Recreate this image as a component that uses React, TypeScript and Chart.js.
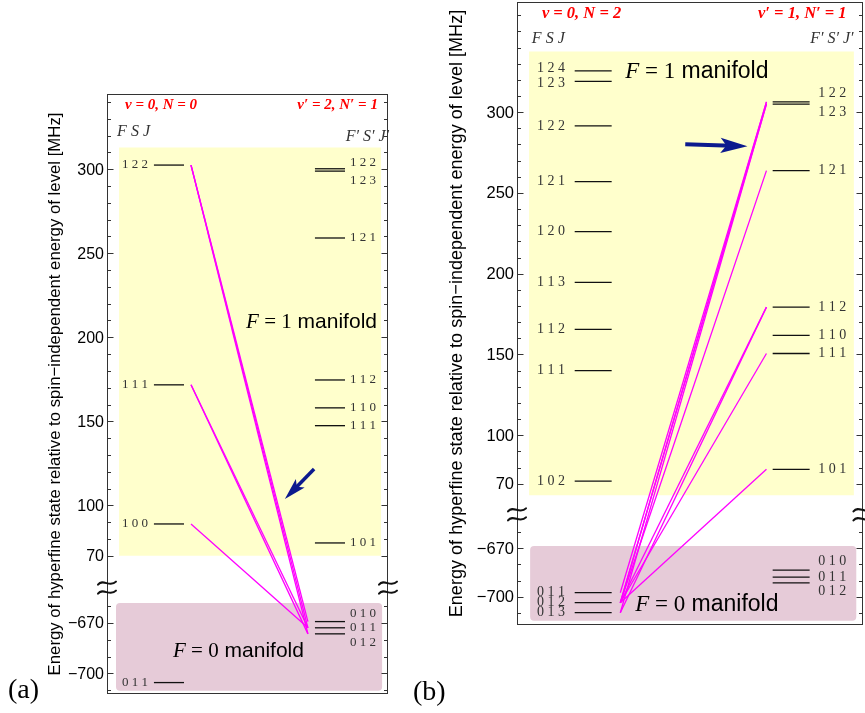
import React, { useEffect, useRef } from 'react';
import { Chart, registerables } from 'chart.js';

Chart.register(...registerables);

// ---------- data (MHz) ----------
// Panel (a): v=0, N=0  ->  v'=2, N'=1
const A_LEFT_LABELS = ['1 2 2', '1 1 1', '1 0 0', '0 1 1'];
const A_LEFT_MHZ = [302.5, 171.7, 88.9, -705.5];
const A_RIGHT_LABELS = ['1 2 2', '1 2 3', '1 2 1', '1 1 2', '1 1 0', '1 1 1', '1 0 1', '0 1 0', '0 1 1', '0 1 2'];
const A_RIGHT_MHZ = [300.3, 298.9, 259.1, 174.6, 158.0, 147.4, 77.6, -669.2, -672.9, -676.5];
const A_LINES_FROM = [0, 0, 0, 1, 1, 2];
const A_LINES_TO = [7, 8, 9, 8, 9, 8];

// Panel (b): v=0, N=2  ->  v'=1, N'=1
const B_LEFT_LABELS = ['1 2 4', '1 2 3', '1 2 2', '1 2 1', '1 2 0', '1 1 3', '1 1 2', '1 1 1', '1 0 2', '0 1 1', '0 1 2', '0 1 3'];
const B_LEFT_MHZ = [325.6, 319.0, 291.5, 257.0, 226.0, 194.6, 165.5, 140.0, 71.6, -697.5, -703.7, -709.9];
const B_RIGHT_LABELS = ['1 2 2', '1 2 3', '1 2 1', '1 1 2', '1 1 0', '1 1 1', '1 0 1', '0 1 0', '0 1 1', '0 1 2'];
const B_RIGHT_MHZ = [306.4, 305.0, 263.8, 179.3, 161.8, 150.6, 78.9, -683.5, -687.9, -691.4];
const B_LINES_FROM = [9, 10, 10, 11, 10, 10, 11, 10, 10];
const B_LINES_TO = [0, 0, 1, 1, 2, 3, 3, 5, 6];

// axis ticks
const TICKS_UPPER = [70, 80, 90, 100, 110, 120, 130, 140, 150, 160, 170, 180, 190, 200, 210, 220, 230, 240, 250, 260, 270, 280, 290, 300, 310, 320, 330, 340, 350, 360];
const TICKS_LOWER = [-710, -700, -690, -680, -670, -660];
const TICK_LABELS = [300, 250, 200, 150, 100, 70, -670, -700];

const TITLE = 'Energy of hyperfine state relative to spin\u2212independent energy of level [MHz]';

// broken axis: lower block shifted up
const BREAK_SHIFT = 700;
const toAxis = (mhz: number) => (mhz < 0 ? mhz + BREAK_SHIFT : mhz);

type Panel = {
  key: string;
  left: number;
  width: number;
  pad: { left: number; right: number; top: number; bottom: number };
  yMin: number;
  yMax: number;
  leftLabels: string[];
  leftMhz: number[];
  rightLabels: string[];
  rightMhz: number[];
  from: number[];
  to: number[];
  leftDy: number[];
  rightDy: number[];
  transX: [number, number];
  leftLabelX: number;
  rightLabelX: number;
  f1Box: number[];
  f0Box: number[];
  headerL: string;
  headerR: string;
  headerMhz: number;
  headerLX: number;
  headerRX: number;
  headerSize: number;
  fsjMhz: number;
  fsjPMhz: number;
  fsjX: number;
  fsjPX: number;
  levelFont: number;
  tickFont: number;
  titleX: number;
  titleLen: number;
  m1: { x: number; mhz: number };
  m0: { x: number; mhz: number };
  mSize: number;
  arrow: number[];
  arrowW: number;
  arrowHead: number;
  breakMhz: number;
  tag: string;
  tagX: number;
  tagY: number;
};

const LEFT_LEVEL_X: [number, number] = [16.7, 27.4];
const RIGHT_LEVEL_X: [number, number] = [74.0, 84.7];

const PANEL_A: Panel = {
  key: 'a',
  left: 0,
  width: 400,
  pad: { left: 107, right: 12, top: 94, bottom: 19 },
  yMin: -12.3,
  yMax: 344.8,
  leftLabels: A_LEFT_LABELS,
  leftMhz: A_LEFT_MHZ,
  rightLabels: A_RIGHT_LABELS,
  rightMhz: A_RIGHT_MHZ,
  from: A_LINES_FROM,
  to: A_LINES_TO,
  leftDy: [0, 0, 0, 0],
  rightDy: [-6.5, 9.5, 0, 0, 0, 0, 0, -8.5, 0, 8.5],
  transX: [29.9, 71.5],
  leftLabelX: 14.6,
  rightLabelX: 86.5,
  f1Box: [4.3, 97.5, 313, 70],
  f0Box: [3.2, 97.9, -658.2, -710.4],
  headerL: 'v = 0, N = 0',
  headerR: 'v\u2032 = 2, N\u2032 = 1',
  headerMhz: 338.3,
  headerLX: 6.4,
  headerRX: 96.4,
  headerSize: 15,
  fsjMhz: 322.4,
  fsjPMhz: 319.4,
  fsjX: 3.6,
  fsjPX: 100.4,
  levelFont: 13,
  tickFont: 16,
  titleX: 55,
  titleLen: 563,
  m1: { x: 49.5, mhz: 208.7 },
  m0: { x: 23.5, mhz: -686.7 },
  mSize: 21,
  arrow: [73.7, 121.6, 63.3, 103.8],
  arrowW: 3.5,
  arrowHead: 22,
  breakMhz: 51,
  tag: '(a)',
  tagX: 8,
  tagY: 691,
};

const PANEL_B: Panel = {
  key: 'b',
  left: 400,
  width: 465,
  pad: { left: 117, right: 2.5, top: 2, bottom: 88 },
  yMin: -17.5,
  yMax: 368.2,
  leftLabels: B_LEFT_LABELS,
  leftMhz: B_LEFT_MHZ,
  rightLabels: B_RIGHT_LABELS,
  rightMhz: B_RIGHT_MHZ,
  from: B_LINES_FROM,
  to: B_LINES_TO,
  leftDy: [-2, 1.5, 0, 0, 0, 0, 0, 0, 0, 0, 0, 0],
  rightDy: [-8.4, 8.3, 0, 0, 0, 0, 0, -8.3, 0, 8],
  transX: [29.9, 72.2],
  leftLabelX: 13.9,
  rightLabelX: 87.2,
  f1Box: [3.5, 97.5, 337.6, 62.9],
  f0Box: [3.8, 98.2, -668.6, -714.9],
  headerL: 'v = 0, N = 2',
  headerR: 'v\u2032 = 1, N\u2032 = 1',
  headerMhz: 360.8,
  headerLX: 7.2,
  headerRX: 95.4,
  headerSize: 16.5,
  fsjMhz: 345.3,
  fsjPMhz: 345.3,
  fsjX: 4.3,
  fsjPX: 97.4,
  levelFont: 14,
  tickFont: 16.5,
  titleX: 57,
  titleLen: 608,
  m1: { x: 31.3, mhz: 324.9 },
  m0: { x: 34.2, mhz: -705.1 },
  mSize: 23,
  arrow: [48.7, 280.2, 66.7, 278.9],
  arrowW: 4,
  arrowHead: 27,
  breakMhz: 51,
  tag: '(b)',
  tagX: 13,
  tagY: 693,
};

const SERIF = '"Liberation Serif", "DejaVu Serif", serif';
const SANS = '"Liberation Sans", Arial, sans-serif';

function drawBreak(ctx: CanvasRenderingContext2D, cx: number, cy: number) {
  ctx.save();
  ctx.translate(cx, cy);
  ctx.strokeStyle = '#111';
  ctx.lineWidth = 2;
  ctx.lineCap = 'round';
  for (const off of [-4.5, 4.5]) {
    ctx.beginPath();
    ctx.moveTo(-9, off + 1.5);
    ctx.bezierCurveTo(-4, off - 5, 3, off + 5, 9, off - 1.5);
    ctx.stroke();
  }
  ctx.restore();
}

function drawArrow(
  ctx: CanvasRenderingContext2D,
  x0: number, y0: number, x1: number, y1: number,
  w: number, headL: number, color: string
) {
  const dx = x1 - x0, dy = y1 - y0;
  const L = Math.hypot(dx, dy);
  const ux = dx / L, uy = dy / L;
  const nx = -uy, ny = ux;
  const hw = headL * 0.28;
  const bx = x1 - ux * headL, by = y1 - uy * headL;
  ctx.save();
  ctx.strokeStyle = color;
  ctx.lineWidth = w;
  ctx.beginPath();
  ctx.moveTo(x0, y0);
  ctx.lineTo(bx + ux * headL * 0.4, by + uy * headL * 0.4);
  ctx.stroke();
  ctx.fillStyle = color;
  ctx.beginPath();
  ctx.moveTo(x1, y1);
  ctx.lineTo(bx + nx * hw, by + ny * hw);
  ctx.lineTo(bx + ux * headL * 0.22, by + uy * headL * 0.22);
  ctx.lineTo(bx - nx * hw, by - ny * hw);
  ctx.closePath();
  ctx.fill();
  ctx.restore();
}

function drawSegments(
  ctx: CanvasRenderingContext2D,
  x: number, y: number,
  segs: { t: string; f: string }[], color: string
) {
  ctx.save();
  ctx.fillStyle = color;
  ctx.textBaseline = 'middle';
  ctx.textAlign = 'left';
  let cx = x;
  for (const s of segs) {
    ctx.font = s.f;
    ctx.fillText(s.t, cx, y);
    cx += ctx.measureText(s.t).width;
  }
  ctx.restore();
}

function makePlugin(p: Panel) {
  return {
    id: 'hyperfine_' + p.key,
    beforeDatasetsDraw(chart: any) {
      const ctx: CanvasRenderingContext2D = chart.ctx;
      const xs = chart.scales.x, ys = chart.scales.y;
      const box = (b: number[], color: string, r: number) => {
        const x0 = xs.getPixelForValue(b[0]);
        const x1 = xs.getPixelForValue(b[1]);
        const y0 = ys.getPixelForValue(toAxis(b[2]));
        const y1 = ys.getPixelForValue(toAxis(b[3]));
        ctx.save();
        ctx.fillStyle = color;
        ctx.beginPath();
        (ctx as any).roundRect(x0, y0, x1 - x0, y1 - y0, r);
        ctx.fill();
        ctx.restore();
      };
      box(p.f1Box, '#ffffcc', 0);
      box(p.f0Box, '#e6cbd8', 4);
    },
    afterDatasetsDraw(chart: any) {
      const ctx: CanvasRenderingContext2D = chart.ctx;
      const xs = chart.scales.x, ys = chart.scales.y;
      const area = chart.chartArea;
      const X = (v: number) => xs.getPixelForValue(v);
      const Y = (mhz: number) => ys.getPixelForValue(toAxis(mhz));

      // level labels
      ctx.save();
      ctx.fillStyle = '#333';
      ctx.textBaseline = 'middle';
      ctx.font = `${p.levelFont}px ${SERIF}`;
      ctx.textAlign = 'right';
      p.leftLabels.forEach((lab, i) => ctx.fillText(lab, X(p.leftLabelX), Y(p.leftMhz[i]) + p.leftDy[i]));
      ctx.textAlign = 'left';
      p.rightLabels.forEach((lab, i) => ctx.fillText(lab, X(p.rightLabelX), Y(p.rightMhz[i]) + p.rightDy[i]));
      ctx.restore();

      // frame
      ctx.save();
      ctx.strokeStyle = '#333';
      ctx.lineWidth = 1;
      const L = Math.round(area.left) + 0.5, R = Math.round(area.right) - 0.5;
      const T = Math.round(area.top) + 0.5, B = Math.round(area.bottom) - 0.5;
      ctx.strokeRect(L, T, R - L, B - T);

      // ticks
      const allTicks = [...TICKS_LOWER, ...TICKS_UPPER];
      for (const v of allTicks) {
        const t = toAxis(v);
        if (t < p.yMin || t > p.yMax) continue;
        const py = Math.round(ys.getPixelForValue(t)) + 0.5;
        const len = TICK_LABELS.includes(v) ? 6 : 3.5;
        ctx.beginPath();
        ctx.moveTo(L, py);
        ctx.lineTo(L + len, py);
        ctx.moveTo(R, py);
        ctx.lineTo(R - len, py);
        ctx.stroke();
      }
      // tick labels
      ctx.fillStyle = '#000';
      ctx.font = `${p.tickFont}px ${SANS}`;
      ctx.textAlign = 'right';
      ctx.textBaseline = 'middle';
      for (const v of TICK_LABELS) {
        const txt = v < 0 ? '\u2212' + Math.abs(v) : String(v);
        ctx.fillText(txt, area.left - 3, ys.getPixelForValue(toAxis(v)) + 1);
      }
      ctx.restore();

      // axis title
      ctx.save();
      ctx.font = `16px ${SANS}`;
      const w16 = ctx.measureText(TITLE).width;
      const fsz = (16 * p.titleLen) / w16;
      ctx.font = `${fsz}px ${SANS}`;
      ctx.fillStyle = '#000';
      ctx.textAlign = 'center';
      ctx.textBaseline = 'middle';
      ctx.translate(p.titleX, (area.top + area.bottom) / 2);
      ctx.rotate(-Math.PI / 2);
      ctx.fillText(TITLE, 0, 0);
      ctx.restore();

      // headers
      ctx.save();
      ctx.fillStyle = '#ff0000';
      ctx.textBaseline = 'middle';
      ctx.font = `italic bold ${p.headerSize}px ${SERIF}`;
      ctx.textAlign = 'left';
      ctx.fillText(p.headerL, X(p.headerLX), Y(p.headerMhz));
      ctx.textAlign = 'right';
      ctx.fillText(p.headerR, X(p.headerRX), Y(p.headerMhz));
      ctx.fillStyle = '#333';
      ctx.font = `italic 16px ${SERIF}`;
      ctx.textAlign = 'left';
      ctx.fillText('F S J', X(p.fsjX), Y(p.fsjMhz));
      ctx.textAlign = 'right';
      ctx.fillText('F\u2032 S\u2032 J\u2032', X(p.fsjPX), Y(p.fsjPMhz));
      ctx.restore();

      // manifold labels
      const ms = p.mSize;
      const segs = (n: string) => [
        { t: 'F', f: `italic ${ms}px ${SERIF}` },
        { t: ' = ', f: `${ms}px ${SERIF}` },
        { t: n, f: `${ms}px ${SERIF}` },
        { t: ' manifold', f: `${ms}px ${SANS}` },
      ];
      drawSegments(ctx, X(p.m1.x), Y(p.m1.mhz), segs('1'), '#000');
      drawSegments(ctx, X(p.m0.x), Y(p.m0.mhz), segs('0'), '#000');

      // arrow
      drawArrow(ctx, X(p.arrow[0]), Y(p.arrow[1]), X(p.arrow[2]), Y(p.arrow[3]), p.arrowW, p.arrowHead, '#0c1a8e');

      // axis break marks
      const by = Y(p.breakMhz);
      drawBreak(ctx, area.left, by);
      drawBreak(ctx, area.right, by);

      // panel tag
      ctx.save();
      ctx.fillStyle = '#000';
      ctx.font = `28px ${SERIF}`;
      ctx.textAlign = 'left';
      ctx.textBaseline = 'middle';
      ctx.fillText(p.tag, p.tagX, p.tagY);
      ctx.restore();
    },
  };
}

function buildDatasets(p: Panel) {
  const ds: any[] = [];
  const levelStyle = { borderColor: '#111', borderWidth: 1.3, pointRadius: 0, showLine: true, fill: false };
  p.leftMhz.forEach((m) => {
    ds.push({ ...levelStyle, data: [{ x: LEFT_LEVEL_X[0], y: toAxis(m) }, { x: LEFT_LEVEL_X[1], y: toAxis(m) }] });
  });
  p.rightMhz.forEach((m) => {
    ds.push({ ...levelStyle, data: [{ x: RIGHT_LEVEL_X[0], y: toAxis(m) }, { x: RIGHT_LEVEL_X[1], y: toAxis(m) }] });
  });
  p.from.forEach((fi, k) => {
    const ti = p.to[k];
    ds.push({
      borderColor: '#ff00ff',
      borderWidth: 1.3,
      pointRadius: 0,
      showLine: true,
      fill: false,
      data: [
        { x: p.transX[0], y: toAxis(p.leftMhz[fi]) },
        { x: p.transX[1], y: toAxis(p.rightMhz[ti]) },
      ],
    });
  });
  return ds;
}

function PanelChart({ p }: { p: Panel }) {
  const ref = useRef<HTMLCanvasElement | null>(null);
  useEffect(() => {
    if (!ref.current) return;
    const chart = new Chart(ref.current, {
      type: 'scatter',
      data: { datasets: buildDatasets(p) },
      options: {
        responsive: false,
        animation: false,
        devicePixelRatio: 1,
        layout: { padding: p.pad },
        plugins: { legend: { display: false }, tooltip: { enabled: false } },
        events: [],
        scales: {
          x: { type: 'linear', min: 0, max: 100, display: false },
          y: { type: 'linear', min: p.yMin, max: p.yMax, display: false },
        },
      } as any,
      plugins: [makePlugin(p)],
    });
    return () => chart.destroy();
  }, [p]);
  return (
    <canvas
      ref={ref}
      width={p.width}
      height={713}
      style={{ position: 'absolute', left: p.left, top: 0, width: p.width, height: 713 }}
    />
  );
}

export default function App() {
  return (
    <div style={{ position: 'fixed', left: 0, top: 0, width: 865, height: 713, background: '#fff', overflow: 'hidden' }}>
      <PanelChart p={PANEL_A} />
      <PanelChart p={PANEL_B} />
    </div>
  );
}
